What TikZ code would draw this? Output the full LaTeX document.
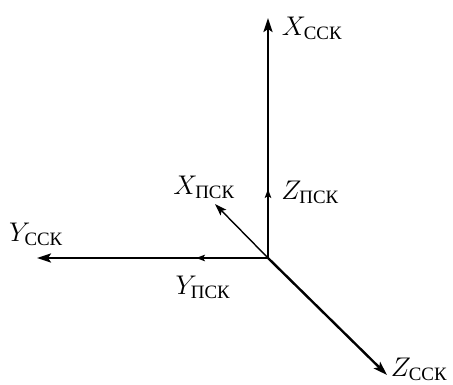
\RequirePackage{fix-cm}
\documentclass[tikz,border=0pt]{standalone}
\usepackage{amsmath}
\usepackage{fontspec}
\newfontfamily\cyrfont{Liberation Serif}
\usetikzlibrary{arrows.meta}
\newcommand{\cyrsub}[1]{\text{\cyrfont #1}}
\begin{document}
\begin{tikzpicture}[x=1pt,y=-1pt,
  axis/.style={line width=2.4pt, -{Stealth[length=14pt,width=9pt,inset=3pt]}},
  subaxis/.style={line width=2.4pt, -{Stealth[length=9pt,width=6.5pt,inset=2pt]}},
  thinaxis/.style={line width=1.4pt, -{Stealth[length=12pt,width=8pt,inset=2.5pt]}},
  lbl/.style={font=\fontsize{27}{32}\selectfont, inner sep=0pt}]
\useasboundingbox (0,0) rectangle (453,385);
\coordinate (O) at (268,258);
\coordinate (xs) at (268,18);
\coordinate (ys) at (37,258);
\coordinate (zs) at (387,375);
\coordinate (xp) at (215,204);
\coordinate (yp) at (196,258);
\coordinate (zp) at (268,189);
\draw[axis] (O) -- (xs);
\draw[axis] (O) -- (ys);
\draw[axis] (O) -- (zs);
\draw[subaxis] (O) -- (zp);
\draw[subaxis] (O) -- (yp);
\draw[thinaxis] (O) -- (xp);
\node[lbl] (lxs) at (312,28) {$X_{\cyrsub{ССК}}$};
\node[lbl] (lys) at (36,234) {$Y_{\cyrsub{ССК}}$};
\node[lbl] (lzs) at (419,369) {$Z_{\cyrsub{ССК}}$};
\node[lbl] (lxp) at (204,187) {$X_{\cyrsub{ПСК}}$};
\node[lbl] (lyp) at (203,287) {$Y_{\cyrsub{ПСК}}$};
\node[lbl] (lzp) at (310,192) {$Z_{\cyrsub{ПСК}}$};
\end{tikzpicture}
\end{document}
